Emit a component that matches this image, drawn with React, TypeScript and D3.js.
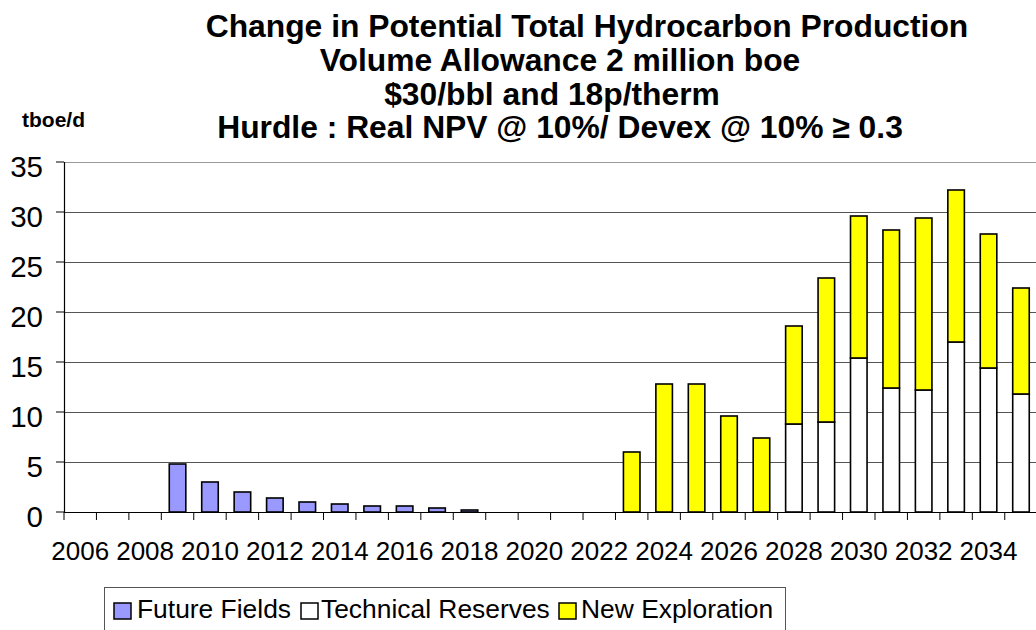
import React from "react";
import * as d3 from "d3";

const years: string[] = [
  "2006", "2007", "2008", "2009", "2010", "2011", "2012", "2013", "2014", "2015",
  "2016", "2017", "2018", "2019", "2020", "2021", "2022", "2023", "2024", "2025",
  "2026", "2027", "2028", "2029", "2030", "2031", "2032", "2033", "2034", "2035",
];
const futureFields: number[] = [
  0, 0, 0, 4.8, 3.0, 2.0, 1.4, 1.0, 0.8, 0.6,
  0.6, 0.4, 0.2, 0, 0, 0, 0, 0, 0, 0,
  0, 0, 0, 0, 0, 0, 0, 0, 0, 0,
];
const technicalReserves: number[] = [
  0, 0, 0, 0, 0, 0, 0, 0, 0, 0,
  0, 0, 0, 0, 0, 0, 0, 0, 0, 0,
  0, 0, 8.8, 9.0, 15.4, 12.4, 12.2, 17.0, 14.4, 11.8,
];
const newExploration: number[] = [
  0, 0, 0, 0, 0, 0, 0, 0, 0, 0,
  0, 0, 0, 0, 0, 0, 0, 6.0, 12.8, 12.8,
  9.6, 7.4, 9.8, 14.4, 14.2, 15.8, 17.2, 15.2, 13.4, 10.6,
];
const yTicks: number[] = [0, 5, 10, 15, 20, 25, 30, 35];
const titleLines: string[] = [
  "Change in Potential Total Hydrocarbon Production",
  "Volume Allowance 2 million boe",
  "$30/bbl and 18p/therm",
  "Hurdle : Real NPV @ 10%/ Devex @ 10% ≥ 0.3",
];
const seriesNames: string[] = ["Future Fields", "Technical Reserves", "New Exploration"];
const seriesColors: string[] = ["#9999FF", "#FFFFFF", "#FFFF00"];

const W = 1036;
const H = 630;
const plotLeft = 64;
const plotTop = 162;
const plotBottom = 512;
const catW = 32.44;
const plotRight = plotLeft + catW * years.length;
const font = "'Liberation Sans', Arial, sans-serif";

export default function App() {
  const x = d3.scaleBand<string>().domain(years).range([plotLeft, plotRight]).padding(0);
  const y = d3.scaleLinear().domain([0, 35]).range([plotBottom, plotTop]);
  const barW = x.bandwidth() * 0.51;

  const table = years.map((yr, i) => ({
    year: yr,
    "Future Fields": futureFields[i],
    "Technical Reserves": technicalReserves[i],
    "New Exploration": newExploration[i],
  }));
  const stacked = d3.stack<any>().keys(seriesNames)(table);

  const titleX = [587, 560, 552, 560];
  const titleY = [37, 71, 105, 138];
  const legendItems = [
    { sx: 114, tx: 137 },
    { sx: 301, tx: 321 },
    { sx: 559, tx: 581 },
  ];

  return (
    <svg
      width={W}
      height={H}
      style={{ position: "absolute", left: 0, top: 0, background: "#fff" }}
      fontFamily={font}
    >
      <rect x={0} y={0} width={W} height={H} fill="#fff" />
      {titleLines.map((t, i) => (
        <text
          key={t}
          x={titleX[i]}
          y={titleY[i]}
          textAnchor="middle"
          fontWeight="bold"
          fontSize={31.8}
          fill="#000"
        >
          {t}
        </text>
      ))}
      <text x={22} y={127} fontWeight="bold" fontSize={21} fill="#000">
        tboe/d
      </text>

      {/* gridlines */}
      {yTicks.filter((t) => t > 0).map((t) => (
        <line
          key={t}
          x1={plotLeft}
          x2={W}
          y1={Math.round(y(t)) + 0.5}
          y2={Math.round(y(t)) + 0.5}
          stroke={t === 35 ? "#999" : "#555"}
          strokeWidth={1}
        />
      ))}

      {/* bars */}
      {stacked.map((layer, si) =>
        layer.map((d, i) => {
          const v = d[1] - d[0];
          if (v <= 0) return null;
          const cx = (x(years[i]) as number) + x.bandwidth() / 2;
          return (
            <rect
              key={seriesNames[si] + i}
              x={cx - barW / 2}
              y={y(d[1])}
              width={barW}
              height={y(d[0]) - y(d[1])}
              fill={seriesColors[si]}
              stroke="#000"
              strokeWidth={1.6}
            />
          );
        })
      )}

      {/* y axis */}
      <line x1={plotLeft + 0.5} x2={plotLeft + 0.5} y1={plotTop} y2={plotBottom} stroke="#000" strokeWidth={1.2} />
      {yTicks.map((t) => (
        <g key={"yt" + t}>
          <line x1={plotLeft - 8} x2={plotLeft} y1={y(t)} y2={y(t)} stroke="#000" strokeWidth={1} />
          <text x={43} y={y(t) + 14.5} textAnchor="end" fontSize={29.5} fill="#000">
            {t}
          </text>
        </g>
      ))}

      {/* x axis */}
      <line x1={plotLeft} x2={W} y1={plotBottom + 0.5} y2={plotBottom + 0.5} stroke="#000" strokeWidth={1.2} />
      {years.map((yr) => (
        <line
          key={"xt" + yr}
          x1={x(yr) as number}
          x2={x(yr) as number}
          y1={plotBottom}
          y2={plotBottom + 8}
          stroke="#000"
          strokeWidth={1}
        />
      ))}
      {years.map((yr, i) =>
        i % 2 === 0 ? (
          <text
            key={"xl" + yr}
            x={(x(yr) as number) + x.bandwidth() / 2}
            y={560}
            textAnchor="middle"
            fontSize={26}
            fill="#000"
          >
            {yr}
          </text>
        ) : null
      )}

      {/* legend */}
      <rect x={104.5} y={587.5} width={681} height={60} fill="#fff" stroke="#555" strokeWidth={1} />
      {seriesNames.map((name, i) => (
        <g key={"lg" + name}>
          <rect
            x={legendItems[i].sx}
            y={603}
            width={17}
            height={16}
            fill={seriesColors[i]}
            stroke="#000"
            strokeWidth={1.5}
          />
          <text x={legendItems[i].tx} y={618} fontSize={26.4} fill="#000">
            {name}
          </text>
        </g>
      ))}
    </svg>
  );
}
